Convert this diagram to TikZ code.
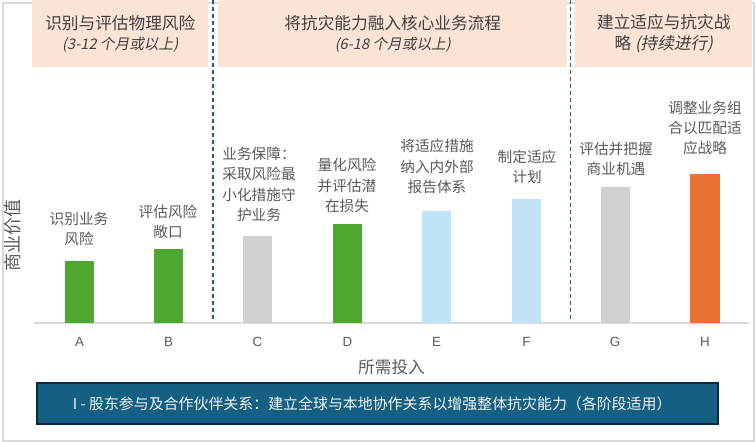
\documentclass[tikz,border=0pt]{standalone}
\usepackage{fontspec}
\setmainfont{Noto Sans CJK SC}
\newfontfamily\slantfont{Noto Sans CJK SC}[FakeSlant=0.2]
\newfontfamily\latinfont{Liberation Sans}
\usetikzlibrary{positioning}

\definecolor{peach}{HTML}{FBE3D6}
\definecolor{riskgreen}{HTML}{4EA72E}
\definecolor{bargrey}{HTML}{D0D0D0}
\definecolor{paleblue}{HTML}{C0E4F5}
\definecolor{adaptorange}{HTML}{E97132}
\definecolor{boxblue}{HTML}{156082}
\definecolor{boxedge}{HTML}{0E2841}
\definecolor{labelgrey}{HTML}{595959}
\definecolor{headgrey}{HTML}{404040}
\definecolor{sepblue}{HTML}{215E80}
\definecolor{framegrey}{HTML}{D9D9D9}

\begin{document}
\begin{tikzpicture}[x=0.75pt, y=-0.75pt,
    phase/.style={fill=peach, anchor=north west, minimum height=50.25pt,
        inner sep=0pt, align=center, text=headgrey,
        font=\fontsize{12.5}{15.5}\selectfont},
    bar/.style={anchor=south, minimum width=21.75pt, inner sep=0pt},
    barlabel/.style={align=center, inner sep=0pt, text=labelgrey,
        font=\fontsize{11}{15.2}\selectfont},
    letter/.style={inner sep=0pt, text=labelgrey, font=\latinfont\fontsize{10}{12}\selectfont},
    separator/.style={draw=sepblue, line width=1pt, dash pattern=on 3pt off 2.25pt}]
\useasboundingbox (0,0) rectangle (756,442);
% frame and axis
\draw[framegrey, line width=0.8pt] (3,3) rectangle (754,441);
\draw[framegrey, line width=1.1pt] (34,323) -- (749,323);

% phases
\node[phase, minimum width=132pt] (phase1) at (32,0)
    {识别与评估物理风险\\{\slantfont\fontsize{11}{15.5}\selectfont (3-12 个月或以上)}};
\node[phase, minimum width=261.75pt] (phase2) at (218,0)
    {将抗灾能力融入核心业务流程\\{\slantfont\fontsize{11}{15.5}\selectfont (6-18 个月或以上)}};
\node[phase, minimum width=132.75pt] (phase3) at (575,0)
    {建立适应与抗灾战\\略 {\slantfont(持续进行)}};
\draw[separator] (213,0) -- (213,322);
\draw[separator] (570.5,0) -- (570.5,322);

% bars
\node[bar, fill=riskgreen, minimum height=46.5pt] (barA) at (79.5,323) {};
\node[bar, fill=riskgreen, minimum height=55.5pt] (barB) at (168.5,323) {};
\node[bar, fill=bargrey, minimum height=65.25pt] (barC) at (257.5,323) {};
\node[bar, fill=riskgreen, minimum height=74.25pt] (barD) at (347.5,323) {};
\node[bar, fill=paleblue, minimum height=84pt] (barE) at (436.5,323) {};
\node[bar, fill=paleblue, minimum height=93pt] (barF) at (526.5,323) {};
\node[bar, fill=bargrey, minimum height=102pt] (barG) at (615,323) {};
\node[bar, fill=adaptorange, minimum height=111.75pt, minimum width=22.5pt] (barH) at (705,323) {};

% labels above the bars
\node[barlabel] (textA) at (79,229) {识别业务\\风险};
\node[barlabel] (textB) at (168,222) {评估风险\\敞口};
\node[barlabel] (textC) at (259,184.5) {业务保障：\\采取风险最\\小化措施守\\护业务};
\node[barlabel] (textD) at (347,185.5) {量化风险\\并评估潜\\在损失};
\node[barlabel] (textE) at (437,166.5) {将适应措施\\纳入内外部\\报告体系};
\node[barlabel] (textF) at (527,167) {制定适应\\计划};
\node[barlabel] (textG) at (616,159) {评估并把握\\商业机遇};
\node[barlabel] (textH) at (705,128) {调整业务组\\合以匹配适\\应战略};

% categories
\node[letter] (catA) at (79.5,342) {A};
\node[letter] (catB) at (168.5,342) {B};
\node[letter] (catC) at (257.5,342) {C};
\node[letter] (catD) at (347.5,342) {D};
\node[letter] (catE) at (436.5,342) {E};
\node[letter] (catF) at (526.5,342) {F};
\node[letter] (catG) at (615,342) {G};
\node[letter] (catH) at (705,342) {H};

% axis titles
\node[text=labelgrey, font=\fontsize{12.5}{15}\selectfont, inner sep=0pt] (xtitle) at (391.5,367) {所需投入};
\node[text=labelgrey, font=\fontsize{13.5}{15}\selectfont, inner sep=0pt, rotate=90] (ytitle) at (13,235) {商业价值};

% partnership box
\node[fill=boxblue, draw=boxedge, line width=1.1pt, minimum width=510.75pt, minimum height=30.75pt,
      text=white!95!black, font=\fontsize{11.2}{13}\selectfont] (partners) at (377.5,403.5)
    {\hspace*{-8pt}I - 股东参与及合作伙伴关系：建立全球与本地协作关系以增强整体抗灾能力（各阶段适用）};
\end{tikzpicture}
\end{document}
